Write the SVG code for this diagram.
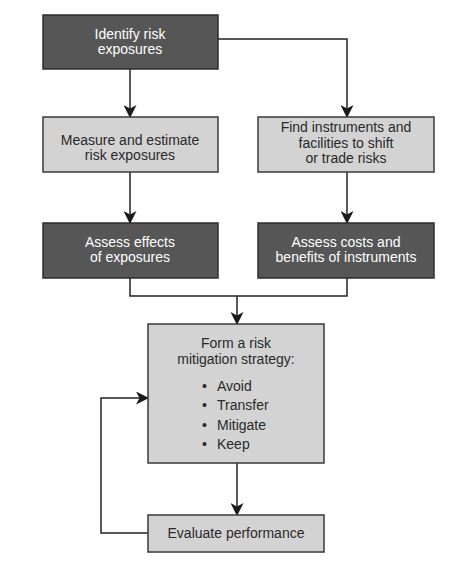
<svg xmlns="http://www.w3.org/2000/svg" width="469" height="576" viewBox="0 0 469 576">
<defs>
<style>
.dark{fill:#565656;stroke:#2e2e2e;stroke-width:1.5}
.light{fill:#d3d3d3;stroke:#3a3a3a;stroke-width:1.5}
.tw{font-family:"Liberation Sans",Arial,sans-serif;font-size:14px;fill:#ffffff;text-anchor:middle}
.tb{font-family:"Liberation Sans",Arial,sans-serif;font-size:14px;fill:#2a2a2a;text-anchor:middle}
.tl{font-family:"Liberation Sans",Arial,sans-serif;font-size:14px;fill:#2a2a2a}
.ln{fill:none;stroke:#222;stroke-width:1.5}
</style>
<marker id="ah" viewBox="0 0 13 13" refX="12" refY="6.5" markerWidth="13" markerHeight="13" markerUnits="userSpaceOnUse" orient="auto">
<path d="M0,0 L13,6.5 L0,13 L3.5,6.5 Z" fill="#1a1a1a"/>
</marker>
</defs>
<rect width="469" height="576" fill="#ffffff"/>
<g id="connectors">
<path class="ln" d="M130,69 V117" marker-end="url(#ah)"/>
<path class="ln" d="M218,39 H347 V117" marker-end="url(#ah)"/>
<path class="ln" d="M130,172 V223" marker-end="url(#ah)"/>
<path class="ln" d="M347,172 V223" marker-end="url(#ah)"/>
<path class="ln" d="M130,278 V296 H347 V278"/>
<path class="ln" d="M237,296 V324" marker-end="url(#ah)"/>
<path class="ln" d="M237,463 V515" marker-end="url(#ah)"/>
<path class="ln" d="M148,533 H101 V398 H148" marker-end="url(#ah)"/>
</g>
<g id="identify">
<rect class="dark" x="43" y="15" width="175" height="54"/>
<text class="tw" x="130" y="39">Identify risk</text>
<text class="tw" x="130" y="54">exposures</text>
</g>
<g id="measure">
<rect class="light" x="43" y="117" width="175" height="55"/>
<text class="tb" x="130" y="145">Measure and estimate</text>
<text class="tb" x="130" y="160">risk exposures</text>
</g>
<g id="find">
<rect class="light" x="258" y="117" width="176" height="55"/>
<text class="tb" x="346" y="132">Find instruments and</text>
<text class="tb" x="346" y="147.5">facilities to shift</text>
<text class="tb" x="346" y="163">or trade risks</text>
</g>
<g id="assess-effects">
<rect class="dark" x="43" y="223" width="175" height="55"/>
<text class="tw" x="130" y="247">Assess effects</text>
<text class="tw" x="130" y="262">of exposures</text>
</g>
<g id="assess-costs">
<rect class="dark" x="258" y="223" width="176" height="55"/>
<text class="tw" x="346" y="247">Assess costs and</text>
<text class="tw" x="346" y="262">benefits of instruments</text>
</g>
<g id="form">
<rect class="light" x="148" y="324" width="176" height="139"/>
<text class="tb" x="236" y="348">Form a risk</text>
<text class="tb" x="236" y="364">mitigation strategy:</text>
<text class="tl" x="202" y="391">•</text>
<text class="tl" x="217" y="391">Avoid</text>
<text class="tl" x="202" y="410">•</text>
<text class="tl" x="217" y="410">Transfer</text>
<text class="tl" x="202" y="430">•</text>
<text class="tl" x="217" y="430">Mitigate</text>
<text class="tl" x="202" y="449">•</text>
<text class="tl" x="217" y="449">Keep</text>
</g>
<g id="evaluate">
<rect class="light" x="148" y="515" width="176" height="37"/>
<text class="tb" x="236" y="538">Evaluate performance</text>
</g>
</svg>
